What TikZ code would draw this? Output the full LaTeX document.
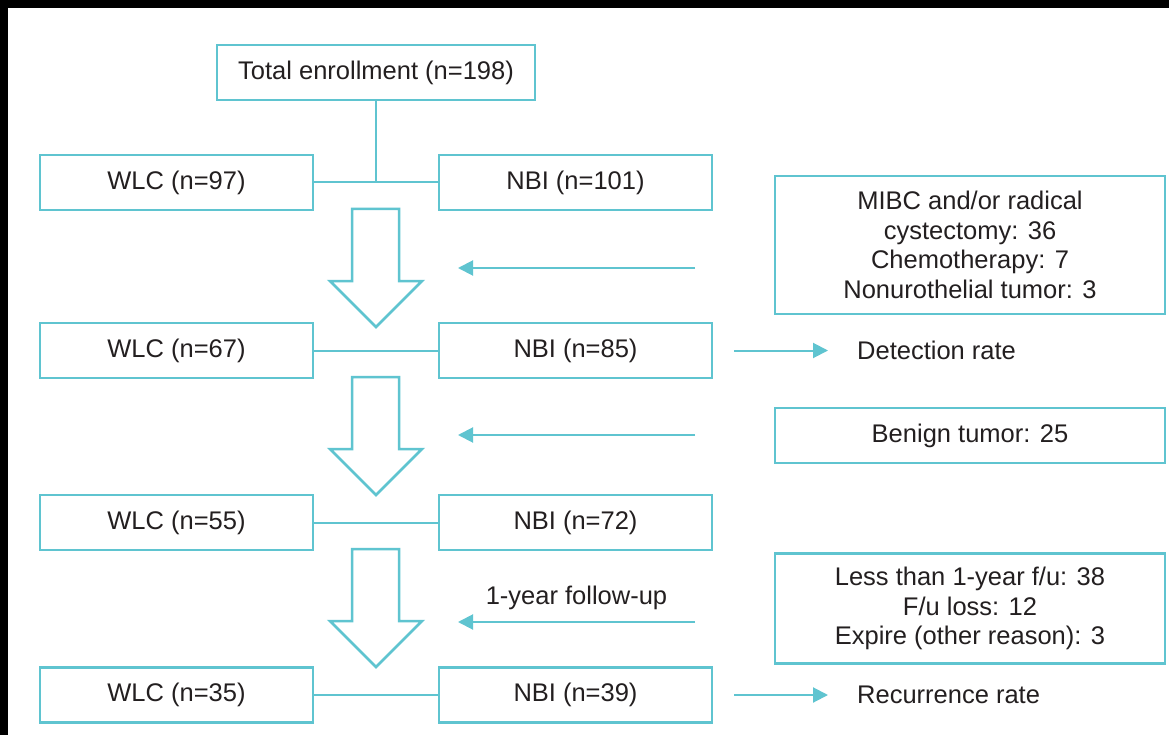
\documentclass[tikz,border=0pt]{standalone}
\usepackage{fontspec}
\setmainfont{Liberation Sans}
\usetikzlibrary{arrows.meta}
\definecolor{teal1}{RGB}{95,196,208}
\definecolor{ink}{RGB}{35,31,32}

\begin{document}
\begin{tikzpicture}[x=1pt,y=-1pt,
  box/.style={draw=teal1, line width=2.5pt, minimum width=273pt, minimum height=55pt,
    inner sep=0pt, align=center, text=ink, font=\fontsize{25.5}{29.5}\selectfont},
  txt/.style={inner sep=0pt, text=ink, font=\fontsize{25.5}{29.5}\selectfont},
  link/.style={draw=teal1, line width=2pt},
  feed/.style={link, -{Triangle[length=15pt,width=15pt]}},
  hollow/.style={draw=teal1, line width=2.5pt, line join=miter}]

% frame
\fill[black] (0,0) rectangle (1169,735);
\fill[white] (8,8) rectangle (1169,735);

% main column
\node[box, minimum width=318pt] (total) at (376,72.5) {Total enrollment (n=198)};
\node[box] (wlc1) at (176.5,182.5) {WLC (n=97)};
\node[box] (nbi1) at (575.5,182.5) {NBI (n=101)};
\node[box] (wlc2) at (176.5,350.5) {WLC (n=67)};
\node[box] (nbi2) at (575.5,350.5) {NBI (n=85)};
\node[box] (wlc3) at (176.5,522.5) {WLC (n=55)};
\node[box] (nbi3) at (575.5,522.5) {NBI (n=72)};
\node[box] (wlc4) at (176.5,695) {WLC (n=35)};
\node[box] (nbi4) at (575.5,695) {NBI (n=39)};

% exclusions
\node[box, minimum width=390pt, minimum height=138pt] (excl1) at (970,245)
  {MIBC and/or radical\\cystectomy: 36\\Chemotherapy: 7\\Nonurothelial tumor: 3};
\node[box, minimum width=390pt] (excl2) at (970,435.5) {Benign tumor: 25};
\node[box, minimum width=390pt, minimum height=110pt] (excl3) at (970,608.5)
  {Less than 1-year f/u: 38\\F/u loss: 12\\Expire (other reason): 3};

% outcomes
\node[txt, anchor=west] (det) at (857,350.5) {Detection rate};
\node[txt, anchor=west] (rec) at (857,695) {Recurrence rate};

% free ends of the side arrows
\coordinate (out1) at (695,268);  \coordinate (in1) at (458,268);
\coordinate (out2) at (695,435);  \coordinate (in2) at (458,435);
\coordinate (out3) at (695,622);  \coordinate (in3) at (458,622);

% links
\draw[link] (total.south) -- (total.south |- wlc1.east);
\draw[link] (wlc1) -- (nbi1);
\draw[link] (wlc2) -- (nbi2);
\draw[link] (wlc3) -- (nbi3);
\draw[link] (wlc4) -- (nbi4);

\draw[feed] (out1) -- (in1);
\draw[feed] (out2) -- (in2);
\draw[feed] (out3) -- (in3) node[txt, midway, above=11pt] (fu) {1-year follow-up};

\draw[feed] ([xshift=21pt]nbi2.east) -- ([xshift=-29pt]det.west);
\draw[feed] ([xshift=21pt]nbi4.east) -- ([xshift=-29pt]rec.west);

% hollow down arrows
\foreach \t in {209,377,549}
  \draw[hollow] (352,\t) -- (399,\t) -- (399,\t+72) -- (422,\t+72) -- (376,\t+118)
    -- (330,\t+72) -- (352,\t+72) -- cycle;

\end{tikzpicture}
\end{document}
